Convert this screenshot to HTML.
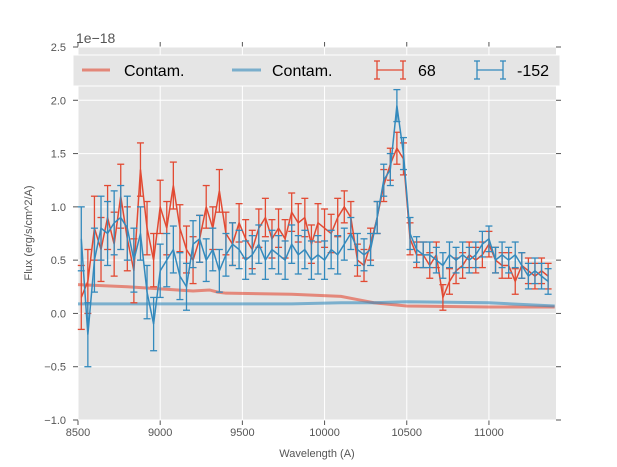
<!DOCTYPE html>
<html><head><meta charset="utf-8"><style>
body{margin:0;background:#fff;font-family:"Liberation Sans",sans-serif}
</style></head><body>
<svg id="chart" width="617" height="467" xmlns="http://www.w3.org/2000/svg" style="font-family:'Liberation Sans',sans-serif;position:absolute;left:0;top:0"></svg>
<script>
const wave=[8520,8560,8600,8640,8680,8720,8760,8800,8840,8880,8920,8960,9000,9040,9080,9120,9160,9200,9240,9280,9320,9360,9400,9440,9480,9520,9560,9600,9640,9680,9720,9760,9800,9840,9880,9920,9960,10000,10040,10080,10120,10160,10200,10240,10280,10320,10360,10400,10440,10480,10520,10560,10600,10640,10680,10720,10760,10800,10840,10880,10920,10960,11000,11040,11080,11120,11160,11200,11240,11280,11320,11360];
const flux68=[0.15,0.3,0.8,0.6,0.9,0.65,1.1,0.7,0.4,1.35,0.8,0.5,1.0,0.8,1.2,0.8,0.6,0.5,0.7,1.0,0.8,1.15,0.75,0.65,0.85,0.7,0.6,0.8,0.9,0.7,0.8,0.7,0.95,0.85,0.9,0.65,0.85,0.8,0.75,0.9,1.0,0.9,0.5,0.45,0.65,0.9,1.2,1.4,1.55,1.45,0.7,0.55,0.55,0.45,0.55,0.15,0.3,0.4,0.45,0.55,0.5,0.55,0.65,0.5,0.45,0.45,0.3,0.45,0.4,0.35,0.4,0.35];
const err68=[0.3,0.3,0.3,0.3,0.3,0.3,0.3,0.3,0.3,0.25,0.25,0.25,0.25,0.25,0.22,0.22,0.22,0.22,0.22,0.2,0.2,0.2,0.2,0.2,0.18,0.18,0.18,0.18,0.18,0.18,0.18,0.18,0.18,0.18,0.18,0.18,0.18,0.18,0.18,0.18,0.15,0.15,0.15,0.15,0.15,0.15,0.15,0.15,0.15,0.15,0.15,0.12,0.12,0.12,0.12,0.12,0.12,0.12,0.12,0.12,0.12,0.12,0.12,0.12,0.12,0.12,0.12,0.12,0.12,0.12,0.12,0.12];
const flux152=[0.7,-0.2,0.5,0.8,0.75,0.85,0.9,0.8,0.5,0.75,0.2,-0.1,0.4,0.5,0.6,0.35,0.25,0.65,0.7,0.5,0.6,0.4,0.55,0.65,0.6,0.5,0.55,0.65,0.5,0.6,0.55,0.5,0.65,0.55,0.6,0.5,0.55,0.5,0.6,0.55,0.65,0.75,0.6,0.55,0.6,0.9,1.25,1.35,1.95,1.5,0.75,0.6,0.55,0.55,0.5,0.45,0.55,0.5,0.55,0.5,0.55,0.65,0.7,0.5,0.55,0.5,0.55,0.45,0.35,0.4,0.35,0.3];
const err152=[0.3,0.3,0.3,0.3,0.3,0.3,0.3,0.3,0.3,0.25,0.25,0.25,0.25,0.25,0.22,0.22,0.22,0.22,0.22,0.2,0.2,0.2,0.2,0.2,0.18,0.18,0.18,0.18,0.18,0.18,0.18,0.18,0.18,0.18,0.18,0.18,0.18,0.18,0.18,0.18,0.15,0.15,0.15,0.15,0.15,0.15,0.15,0.15,0.15,0.15,0.15,0.12,0.12,0.12,0.12,0.12,0.12,0.12,0.12,0.12,0.12,0.12,0.12,0.12,0.12,0.12,0.12,0.12,0.12,0.12,0.12,0.12];
const contamWave=[8500,8800,9200,9300,9350,9400,9800,10100,10200,10300,10500,11000,11400];
const contam68=[0.27,0.25,0.21,0.22,0.2,0.19,0.18,0.16,0.13,0.1,0.07,0.06,0.06];
const contam152=[0.09,0.09,0.09,0.09,0.09,0.09,0.09,0.1,0.1,0.1,0.11,0.1,0.07];
const xTicks=[8500,9000,9500,10000,10500,11000];
const yTicks=[-1.0,-0.5,0.0,0.5,1.0,1.5,2.0,2.5];

const NS="http://www.w3.org/2000/svg",svg=document.getElementById('chart');
const L=78,R=556,T=47,B=420,xmin=8500,xmax=11408,ymin=-1,ymax=2.5;
const xs=v=>L+(v-xmin)/(xmax-xmin)*(R-L), ys=v=>B-(v-ymin)/(ymax-ymin)*(B-T);
function el(t,a,p){const e=document.createElementNS(NS,t);for(const k in a)e.setAttribute(k,a[k]);(p||svg).appendChild(e);return e;}
const bg=el('rect',{x:L,y:T,width:R-L,height:B-T,fill:'#e5e5e5'});


xTicks.forEach(v=>{const g=el('line',{x1:xs(v),x2:xs(v),y1:T,y2:B,stroke:'#fff','stroke-width':1});


el('line',{x1:xs(v),x2:xs(v),y1:T-5,y2:T,stroke:'#555'});el('line',{x1:xs(v),x2:xs(v),y1:B,y2:B+5,stroke:'#555'});
const t=el('text',{x:xs(v),y:B+16,'font-size':11,fill:'#555','text-anchor':'middle'});t.textContent=v;

});
yTicks.forEach(v=>{const g=el('line',{x1:L,x2:R,y1:ys(v),y2:ys(v),stroke:'#fff','stroke-width':1});


el('line',{x1:L-5,x2:L,y1:ys(v),y2:ys(v),stroke:'#555'});el('line',{x1:R,x2:R+5,y1:ys(v),y2:ys(v),stroke:'#555'});
const t=el('text',{x:L-12,y:ys(v)+4,'font-size':11,fill:'#555','text-anchor':'end'});t.textContent=(v<0?'\u2212'+(-v).toFixed(1):v.toFixed(1));

});
function line(xa,ya,col,w,op,name){const p=el('polyline',{points:xa.map((x,i)=>xs(x)+','+ys(ya[i])).join(' '),fill:'none',stroke:col,'stroke-width':w,opacity:op});

}
line(contamWave,contam68,'#e24a33',3,0.6,'contam-68-line');
line(contamWave,contam152,'#348abd',3,0.6,'contam-152-line');
function eb(ya,ea,col,name){const g=el('g',{stroke:col,'stroke-width':1.3,fill:'none'});


wave.forEach((w,i)=>{const x=xs(w);el('line',{x1:x,x2:x,y1:ys(ya[i]-ea[i]),y2:ys(ya[i]+ea[i])},g);
el('line',{x1:x-3.5,x2:x+3.5,y1:ys(ya[i]-ea[i]),y2:ys(ya[i]-ea[i])},g);el('line',{x1:x-3.5,x2:x+3.5,y1:ys(ya[i]+ea[i]),y2:ys(ya[i]+ea[i])},g);});
el('polyline',{points:wave.map((w,i)=>xs(w)+','+ys(ya[i])).join(' '),'stroke-width':1.5},g);}
eb(flux68,err68,'#e24a33','series-68');
eb(flux152,err152,'#348abd','series-152');
</script>
<svg width="617" height="467" style="position:absolute;left:0;top:0" xmlns="http://www.w3.org/2000/svg" font-family="Liberation Sans, sans-serif">
<text x="76" y="43" font-size="14" fill="#555">1e−18</text>
<text x="317" y="457" font-size="11" fill="#555" text-anchor="middle">Wavelength (A)</text>
<text transform="translate(32,233) rotate(-90)" font-size="11" fill="#555" text-anchor="middle">Flux (erg/s/cm^2/A)</text>
<g>
<rect x="73" y="55" width="487" height="31" fill="#e5e5e5" stroke="#fff"/>
<line x1="82" x2="110" y1="70" y2="70" stroke="#e24a33" stroke-width="3" opacity="0.6"/>
<text x="124" y="76" font-size="16" fill="#000">Contam.</text>
<line x1="232" x2="261" y1="70" y2="70" stroke="#348abd" stroke-width="3" opacity="0.6"/>
<text x="272" y="76" font-size="16" fill="#000">Contam.</text>
<g stroke="#e24a33" stroke-width="1.3"><line x1="377" x2="403" y1="70" y2="70"/><line x1="377" x2="377" y1="61" y2="79"/><line x1="403" x2="403" y1="61" y2="79"/><line x1="374" x2="380" y1="61" y2="61"/><line x1="374" x2="380" y1="79" y2="79"/><line x1="400" x2="406" y1="61" y2="61"/><line x1="400" x2="406" y1="79" y2="79"/></g>
<text x="418" y="76" font-size="16" fill="#000">68</text>
<g stroke="#348abd" stroke-width="1.3"><line x1="477" x2="503" y1="70" y2="70"/><line x1="477" x2="477" y1="61" y2="79"/><line x1="503" x2="503" y1="61" y2="79"/><line x1="474" x2="480" y1="61" y2="61"/><line x1="474" x2="480" y1="79" y2="79"/><line x1="500" x2="506" y1="61" y2="61"/><line x1="500" x2="506" y1="79" y2="79"/></g>
<text x="517" y="76" font-size="16" fill="#000">-152</text>
</g>
</svg>
</body></html>
